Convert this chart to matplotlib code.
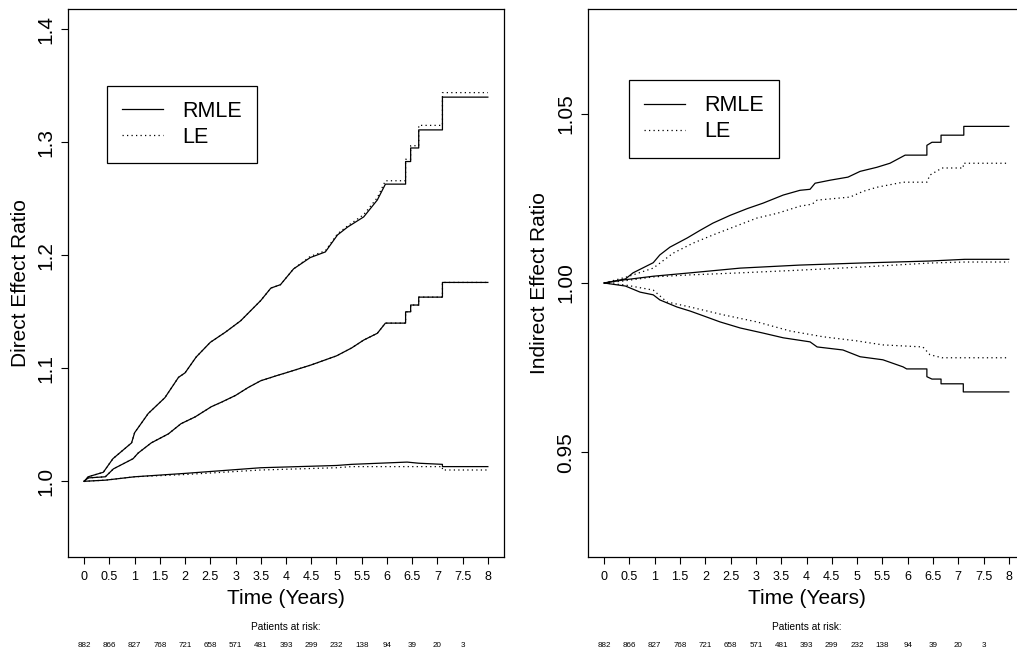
import matplotlib
matplotlib.use("Agg")
import matplotlib.pyplot as plt
import numpy as np

plt.rcParams['font.family'] = ['Liberation Sans', 'DejaVu Sans']

# Zeitpunkte fuer Achse und Risikotabelle
x_ticks = [0, 0.5, 1, 1.5, 2, 2.5, 3, 3.5, 4, 4.5, 5, 5.5, 6, 6.5, 7, 7.5, 8]
x_tick_labels = ['0', '0.5', '1', '1.5', '2', '2.5', '3', '3.5', '4', '4.5',
                 '5', '5.5', '6', '6.5', '7', '7.5', '8']
risk_times = [0, 0.5, 1, 1.5, 2, 2.5, 3, 3.5, 4, 4.5, 5, 5.5, 6, 6.5, 7, 7.5]
at_risk = [882, 866, 827, 768, 721, 658, 571, 481, 393, 299, 232, 138, 94, 39, 20, 3]

# --- Direct effect (links) ---
d_up_t = [0, 0.08, 0.38, 0.57, 0.94, 1.0, 1.27, 1.6, 1.87, 2.0, 2.22, 2.5, 2.8, 3.1,
          3.5, 3.7, 3.89, 4.15, 4.48, 4.78, 5.02, 5.22, 5.54, 5.81, 5.97, 6.37, 6.37,
          6.47, 6.47, 6.63, 6.63, 7.1, 7.1, 8.0]
d_up_rmle = [1.0, 1.004, 1.008, 1.02, 1.034, 1.043, 1.06, 1.074, 1.092, 1.096, 1.11,
             1.123, 1.132, 1.142, 1.16, 1.171, 1.174, 1.188, 1.198, 1.203, 1.218, 1.225,
             1.234, 1.249, 1.263, 1.263, 1.283, 1.283, 1.295, 1.295, 1.311, 1.311,
             1.340, 1.340]
d_up_le = [1.0, 1.004, 1.008, 1.02, 1.034, 1.043, 1.06, 1.074, 1.092, 1.096, 1.11,
           1.123, 1.132, 1.142, 1.16, 1.171, 1.174, 1.188, 1.199, 1.204, 1.219, 1.226,
           1.236, 1.251, 1.266, 1.266, 1.285, 1.285, 1.297, 1.297, 1.315, 1.315,
           1.344, 1.344]

d_mid_t = [0, 0.08, 0.42, 0.58, 0.97, 1.07, 1.33, 1.67, 1.92, 2.2, 2.52, 2.72, 3.0,
           3.25, 3.5, 3.85, 4.0, 4.5, 5.0, 5.3, 5.54, 5.81, 5.97, 6.37, 6.37, 6.47,
           6.47, 6.63, 6.63, 7.1, 7.1, 8.0]
d_mid_rmle = [1.0, 1.003, 1.004, 1.011, 1.02, 1.025, 1.034, 1.042, 1.051, 1.057, 1.066,
              1.07, 1.076, 1.083, 1.089, 1.094, 1.096, 1.103, 1.111, 1.118, 1.125, 1.131,
              1.14, 1.14, 1.15, 1.15, 1.156, 1.156, 1.163, 1.163, 1.176, 1.176]
d_mid_le = [1.0, 1.003, 1.004, 1.011, 1.02, 1.025, 1.034, 1.042, 1.051, 1.057, 1.066,
            1.07, 1.076, 1.083, 1.089, 1.094, 1.096, 1.103, 1.111, 1.118, 1.125, 1.131,
            1.14, 1.14, 1.15, 1.15, 1.156, 1.156, 1.163, 1.163, 1.176, 1.176]

d_low_t = [0, 0.42, 1.0, 2.0, 3.5, 5.0, 5.3, 6.4, 6.63, 7.1, 7.1, 8.0]
d_low_rmle = [1.0, 1.001, 1.004, 1.007, 1.012, 1.014, 1.015, 1.017, 1.016, 1.015, 1.013, 1.013]
d_low_le = [1.0, 1.001, 1.004, 1.006, 1.010, 1.012, 1.013, 1.013, 1.013, 1.013, 1.010, 1.010]

# --- Indirect effect (rechts) ---
i_up_rmle_t = [0, 0.42, 0.57, 0.97, 1.1, 1.3, 1.64, 1.9, 2.15, 2.49, 2.83, 3.14, 3.54,
               3.87, 4.07, 4.17, 4.47, 4.82, 5.06, 5.39, 5.65, 5.95, 6.38, 6.38, 6.48,
               6.66, 6.66, 7.11, 7.11, 8.0]
i_up_rmle = [1.0, 1.0012, 1.003, 1.006, 1.0083, 1.0106, 1.0133, 1.0156, 1.0177, 1.02,
             1.022, 1.0236, 1.026, 1.0274, 1.0277, 1.0295, 1.0304, 1.0313, 1.033, 1.0342,
             1.0354, 1.0378, 1.0378, 1.0407, 1.0416, 1.0416, 1.0437, 1.0437, 1.0463, 1.0463]
i_up_le_t = [0, 0.45, 0.97, 1.36, 1.76, 2.15, 2.55, 3.02, 3.42, 3.87, 4.11, 4.21, 4.86,
             5.12, 5.39, 5.91, 6.38, 6.44, 6.68, 7.1, 7.1, 8.0]
i_up_le = [1.0, 1.0018, 1.0044, 1.0088, 1.0118, 1.0142, 1.0165, 1.0192, 1.0206, 1.0227,
           1.0233, 1.0245, 1.0254, 1.0271, 1.0283, 1.0298, 1.0298, 1.0319, 1.034, 1.034,
           1.0354, 1.0354]

i_mid_t = [0, 0.38, 0.97, 1.7, 2.69, 3.87, 5.06, 6.44, 7.13, 8.0]
i_mid_rmle = [1.0, 1.0009, 1.002, 1.003, 1.0044, 1.0053, 1.0059, 1.0065, 1.007, 1.007]
i_mid_le = [1.0, 1.0006, 1.0018, 1.0024, 1.003, 1.0038, 1.0047, 1.0059, 1.0062, 1.0062]

i_low_rmle_t = [0, 0.42, 0.71, 0.97, 1.1, 1.44, 1.7, 1.96, 2.29, 2.69, 3.14, 3.54, 4.07,
                4.21, 4.72, 5.06, 5.51, 5.91, 5.98, 6.38, 6.38, 6.48, 6.66, 6.66, 7.1,
                7.1, 8.0]
i_low_rmle = [1.0, 0.9991, 0.9973, 0.9965, 0.995, 0.9929, 0.9917, 0.9903, 0.9885, 0.9867,
              0.9852, 0.9838, 0.9826, 0.9811, 0.9802, 0.9782, 0.9773, 0.9752, 0.9746,
              0.9746, 0.9723, 0.9716, 0.9716, 0.9702, 0.9702, 0.9678, 0.9678]
i_low_le_t = [0, 0.42, 0.97, 1.24, 1.7, 2.35, 3.02, 3.68, 4.33, 4.99, 5.51, 6.3, 6.44,
              6.68, 8.0]
i_low_le = [1.0, 0.9994, 0.9979, 0.9944, 0.9929, 0.9906, 0.9885, 0.9858, 0.9841, 0.9829,
            0.9817, 0.9811, 0.9788, 0.9779, 0.9779]

fig = plt.figure(figsize=(10.17, 6.55), dpi=100)
W, H = 1017, 655
ax1 = fig.add_axes([68 / W, 98 / H, 436 / W, 548 / H])
ax2 = fig.add_axes([588 / W, 98 / H, 437 / W, 548 / H])

solid = dict(color='black', lw=0.9, ls='-')
dotted = dict(color='black', lw=0.9, ls=(0, (1, 2.6)))

ax1.plot(d_up_t, d_up_rmle, **solid, label='RMLE')
ax1.plot(d_up_t, d_up_le, **dotted, label='LE')
ax1.plot(d_mid_t, d_mid_rmle, **solid)
ax1.plot(d_mid_t, d_mid_le, **dotted)
ax1.plot(d_low_t, d_low_rmle, **solid)
ax1.plot(d_low_t, d_low_le, **dotted)

ax2.plot(i_up_rmle_t, i_up_rmle, **solid, label='RMLE')
ax2.plot(i_up_le_t, i_up_le, **dotted, label='LE')
ax2.plot(i_mid_t, i_mid_rmle, **solid)
ax2.plot(i_mid_t, i_mid_le, **dotted)
ax2.plot(i_low_rmle_t, i_low_rmle, **solid)
ax2.plot(i_low_le_t, i_low_le, **dotted)

ax1.set_ylim(0.933, 1.418)
ax1.set_yticks([1.0, 1.1, 1.2, 1.3, 1.4])
ax1.set_yticklabels(['1.0', '1.1', '1.2', '1.3', '1.4'])
ax1.set_ylabel('Direct Effect Ratio', fontsize=15)

ax2.set_ylim(0.919, 1.081)
ax2.set_yticks([0.95, 1.0, 1.05])
ax2.set_yticklabels(['0.95', '1.00', '1.05'])
ax2.set_ylabel('Indirect Effect Ratio', fontsize=15)

leg_pos = {ax1: (0.089, 0.86), ax2: (0.094, 0.87)}

for ax in (ax1, ax2):
    ax.set_xlim(-0.32, 8.32)
    ax.set_xticks(x_ticks)
    ax.set_xticklabels(x_tick_labels, fontsize=9)
    ax.tick_params(axis='x', direction='out', length=5, width=0.8, pad=5)
    ax.tick_params(axis='y', direction='out', length=5, width=0.8, pad=4, labelsize=15)
    for lab in ax.get_yticklabels():
        lab.set_rotation(90)
        lab.set_va('center')
    ax.yaxis.label.set_va('center')
    ax.yaxis.set_label_coords(-0.11, 0.5)
    for sp in ax.spines.values():
        sp.set_linewidth(0.9)
    ax.text(0.5, -0.075, 'Time (Years)', transform=ax.transAxes,
            ha='center', va='center', fontsize=15)
    ax.text(0.5, -0.128, 'Patients at risk:', transform=ax.transAxes,
            ha='center', va='center', fontsize=7.3)
    tr = ax.get_xaxis_transform()
    for t, n in zip(risk_times, at_risk):
        ax.text(t, -0.162, str(n), transform=tr, ha='center', va='center', fontsize=5.8)
    leg = ax.legend(loc='upper left', bbox_to_anchor=leg_pos[ax], fontsize=15.5,
                    fancybox=False, framealpha=1, edgecolor='black',
                    handlelength=1.9, handletextpad=0.9, borderpad=0.7,
                    labelspacing=0.24, borderaxespad=0)
    leg.get_frame().set_linewidth(0.9)

fig.savefig('out.png', dpi=100)
